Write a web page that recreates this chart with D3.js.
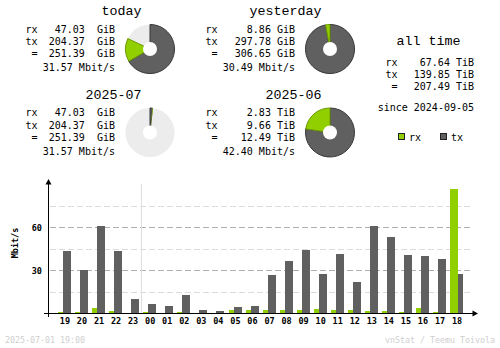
<!DOCTYPE html>
<html><head><meta charset="utf-8">
<script src="https://cdn.jsdelivr.net/npm/d3@7"></script>
<style>
body{margin:0;background:#fff}
svg{display:block}
text{font-family:"DejaVu Sans Mono",monospace;white-space:pre}
.title{font-family:"Liberation Mono","DejaVu Sans Mono",monospace}
</style>
</head><body>
<svg id="chart" width="500" height="348"></svg>
<script>
// summary periods: today / yesterday, current / previous month
const periods = ["today", "yesterday", "2025-07", "2025-06"];
const rxValues = [47.03, 8.86, 47.03, 2.83];
const txValues = [204.37, 297.78, 204.37, 9.66];
const totalValues = [251.39, 306.65, 251.39, 12.49];
const units = ["GiB", "GiB", "GiB", "TiB"];
const rates = [31.57, 30.49, 31.57, 42.40];

// all time totals (TiB)
const allTimeLabels = ["rx", "tx", "="];
const allTimeValues = [67.64, 139.85, 207.49];
const allTimeUnit = "TiB";
const sinceDate = "2024-09-05";

// hourly averages, Mbit/s
const hours = ["19","20","21","22","23","00","01","02","03","04","05","06","07","08","09","10","11","12","13","14","15","16","17","18"];
const hourRx = [0.7, 0.7, 3.5, 1.4, 0.3, 0.7, 0.3, 0.7, 0.3, 0.3, 2.1, 2.1, 2.1, 2.1, 2.1, 2.8, 2.1, 2.1, 1.4, 1.4, 0.7, 3.5, 0.7, 86.5];
const hourTx = [43.3, 30.0, 60.7, 43.3, 9.8, 6.3, 4.9, 12.6, 2.1, 1.4, 4.2, 4.9, 26.5, 36.3, 44.0, 27.2, 41.2, 21.6, 60.7, 53.0, 40.5, 39.8, 37.7, 27.2];
const gridValues = [15, 30, 45, 60, 75];
const tickValues = [30, 60];
const stamp = "2025-07-01 19:00";
const credit = "vnStat / Teemu Toivola";

const C = {rx: "#92cf00", rxEdge: "#6c9a00", tx: "#606060", txEdge: "#383838",
           pieBg: "#ececec", gridMajor: "#b0b0b0", gridMinor: "#dcdcdc", faint: "#cfcfcf"};
const unitFactor = {GiB: 1, TiB: 1024};

const svg = d3.select("#chart");
svg.append("rect").attr("width", 500).attr("height", 348).attr("fill", "#fff");

// ---------- summary blocks ----------
const blockX = [0, 180, 0, 180];
const blockY = [0, 0, 83.5, 83.5];
const unitPad = [2, 1, 2, 1];   // spaces between amount and unit per column
const rowY = [32.7, 45, 57.3, 71.3];
const arc = d3.arc().innerRadius(0).outerRadius(24.5);

periods.forEach((name, i) => {
  const bx = blockX[i], by = blockY[i];
  const g = svg.append("g").attr("transform", `translate(${bx},${by})`);
  g.append("text").attr("class", "title").attr("x", 141.5).attr("y", 15).attr("text-anchor", "end")
    .attr("font-size", 13.33).text(name);
  const labels = ["rx", "tx", "=", ""];
  const vals = [rxValues[i], txValues[i], totalValues[i]];
  labels.forEach((l, r) => {
    if (l) g.append("text").attr("x", 37.5).attr("y", rowY[r]).attr("text-anchor", "end")
      .attr("font-size", 10).text(l);
  });
  vals.forEach((v, r) => {
    g.append("text").attr("x", 115).attr("y", rowY[r]).attr("text-anchor", "end")
      .attr("font-size", 10).text(v.toFixed(2) + " ".repeat(unitPad[i]) + units[i]);
  });
  g.append("text").attr("x", 115).attr("y", rowY[3]).attr("text-anchor", "end")
    .attr("font-size", 10).text(rates[i].toFixed(2) + " Mbit/s");

  // donut, scaled against the larger period of its pair
  const pair = i < 2 ? [0, 1] : [2, 3];
  const ref = d3.max(pair, j => totalValues[j] * unitFactor[units[j]]);
  const f = unitFactor[units[i]];
  const txA = txValues[i] * f / ref * 2 * Math.PI;
  const rxA = rxValues[i] * f / ref * 2 * Math.PI;
  const p = g.append("g").attr("transform", "translate(150,49)");
  p.append("circle").attr("r", 24.5).attr("fill", C.pieBg);
  const minEdge = 5 * Math.PI / 180;
  p.append("path").attr("d", arc({startAngle: 0, endAngle: txA}))
    .attr("fill", C.tx).attr("stroke", txA >= minEdge ? C.txEdge : "none");
  p.append("path").attr("d", arc({startAngle: txA, endAngle: txA + rxA}))
    .attr("fill", C.rx).attr("stroke", rxA >= minEdge ? C.rxEdge : "none");
  p.append("circle").attr("r", 7).attr("fill", "#fff");
});

// ---------- all time ----------
svg.append("text").attr("class", "title").attr("x", 428.5).attr("y", 44.5).attr("text-anchor", "middle")
  .attr("font-size", 13.33).text("all time");
const atRows = [65.5, 77.8, 90.1];
allTimeLabels.forEach((l, r) => {
  svg.append("text").attr("x", 397.5).attr("y", atRows[r]).attr("text-anchor", "end")
    .attr("font-size", 10).text(l);
  svg.append("text").attr("x", 474).attr("y", atRows[r]).attr("text-anchor", "end")
    .attr("font-size", 10).text(allTimeValues[r].toFixed(2) + " " + allTimeUnit);
});
svg.append("text").attr("x", 474).attr("y", 110.5).attr("text-anchor", "end")
  .attr("font-size", 10).text("since " + sinceDate);

// legend
[["rx", C.rx, 398.5], ["tx", C.tx, 440.5]].forEach(([l, col, lx]) => {
  svg.append("rect").attr("x", lx).attr("y", 133.5).attr("width", 6).attr("height", 6)
    .attr("fill", col).attr("stroke", "#222");
  svg.append("text").attr("x", lx + 10.5).attr("y", 140.5).attr("font-size", 10).text(l);
});

// ---------- hourly bars ----------
const x = d3.scaleBand().domain(hours).range([56.4, 56.4 + 24 * 17.05]).paddingInner(0).paddingOuter(0);
const y = d3.scaleLinear().domain([0, 30]).range([313, 270]);
const base = y(0);

// grid
gridValues.forEach(v => {
  const yy = Math.round(y(v)) + 0.5;
  svg.append("line").attr("x1", 50).attr("x2", 473).attr("y1", yy).attr("y2", yy)
    .attr("stroke", v % 30 === 0 ? C.gridMajor : C.gridMinor)
    .attr("stroke-dasharray", "6,3");
});
// day boundary before 00
const dayX = Math.round(x("00")) - 0.5;
svg.append("line").attr("x1", dayX).attr("x2", dayX).attr("y1", 184).attr("y2", base)
  .attr("stroke", "#dedede");

// bars: smaller one drawn first so the larger overlaps it
const bars = svg.append("g");
hours.forEach((h, i) => {
  const items = [
    {v: hourRx[i], dx: 1.6, col: C.rx},
    {v: hourTx[i], dx: 6.6, col: C.tx}
  ].sort((a, b) => a.v - b.v);
  items.forEach(it => {
    const hgt = Math.round(base - y(it.v));
    if (hgt <= 0) return;
    bars.append("rect").attr("x", Math.round(x(h) + it.dx)).attr("y", base - hgt)
      .attr("width", 8).attr("height", hgt).attr("fill", it.col);
  });
});

// axes lines with arrows
svg.append("line").attr("x1", 48.5).attr("x2", 48.5).attr("y1", 181).attr("y2", 317)
  .attr("stroke", "#000");
svg.append("path").attr("d", "M45.5,184.5L51.5,184.5L48.5,179Z").attr("fill", "#000");
svg.append("line").attr("x1", 44).attr("x2", 475).attr("y1", 313.5).attr("y2", 313.5)
  .attr("stroke", "#000");
svg.append("path").attr("d", "M472.5,310.5L472.5,316.5L478,313.5Z").attr("fill", "#000");

// x axis labels
const xAxis = svg.append("g").attr("transform", `translate(0,${base})`)
  .call(d3.axisBottom(x).tickSize(0).tickPadding(0));
xAxis.select(".domain").remove();
xAxis.selectAll("text").attr("y", 11).attr("dy", 0)
  .attr("font-family", "DejaVu Sans Mono").attr("font-size", 8.5).attr("font-weight", "bold").attr("fill", "#000");

// y axis labels
const yAxis = svg.append("g").attr("transform", "translate(48.5,0)")
  .call(d3.axisLeft(y).tickValues(tickValues).tickSize(0).tickPadding(6.5));
yAxis.select(".domain").remove();
yAxis.selectAll("text").attr("font-family", "DejaVu Sans Mono").attr("font-size", 8.5)
  .attr("font-weight", "bold").attr("fill", "#000").attr("dy", "0.36em");

svg.append("text").attr("transform", "translate(17.5,243) rotate(-90)")
  .attr("text-anchor", "middle").attr("font-size", 8.5).attr("font-weight", "bold").text("Mbit/s");

// footer
svg.append("text").attr("x", 5).attr("y", 343).attr("font-size", 8.3).attr("fill", C.faint).text(stamp);
svg.append("text").attr("x", 495).attr("y", 343).attr("text-anchor", "end")
  .attr("font-size", 8.3).attr("fill", C.faint).text(credit);
</script>
</body></html>
